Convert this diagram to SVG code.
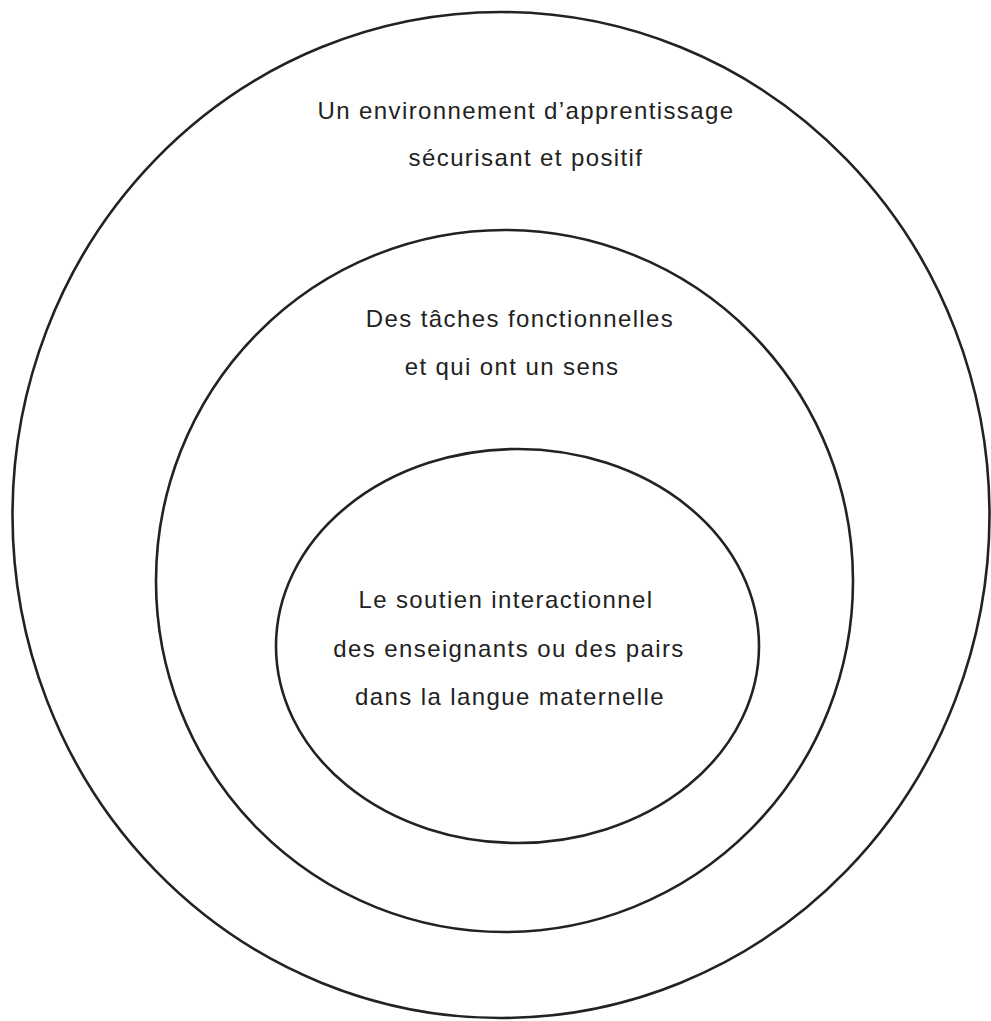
<svg xmlns="http://www.w3.org/2000/svg" width="991" height="1021" viewBox="0 0 991 1021">
<style>
.ring{fill:none;stroke:#222;stroke-width:2.6}
.lbl{font-family:"Liberation Sans",Arial,sans-serif;font-size:24px;letter-spacing:1.4px;fill:#222;text-anchor:middle}
</style>
<rect width="991" height="1021" fill="#fff"/>
<g id="outer">
<ellipse class="ring" cx="501" cy="515" rx="488.5" ry="503"/>
<text class="lbl" x="526" y="119">Un environnement d’apprentissage</text>
<text class="lbl" x="526" y="166">sécurisant et positif</text>
</g>
<g id="middle">
<ellipse class="ring" cx="504.5" cy="581" rx="348.5" ry="351"/>
<text class="lbl" x="520" y="327">Des tâches fonctionnelles</text>
<text class="lbl" x="512" y="375">et qui ont un sens</text>
</g>
<g id="inner">
<ellipse class="ring" cx="517.5" cy="646" rx="241.5" ry="197"/>
<text class="lbl" x="506" y="608">Le soutien interactionnel</text>
<text class="lbl" x="509" y="657">des enseignants ou des pairs</text>
<text class="lbl" x="510" y="705">dans la langue maternelle</text>
</g>
<g id="connectors"/>
</svg>
